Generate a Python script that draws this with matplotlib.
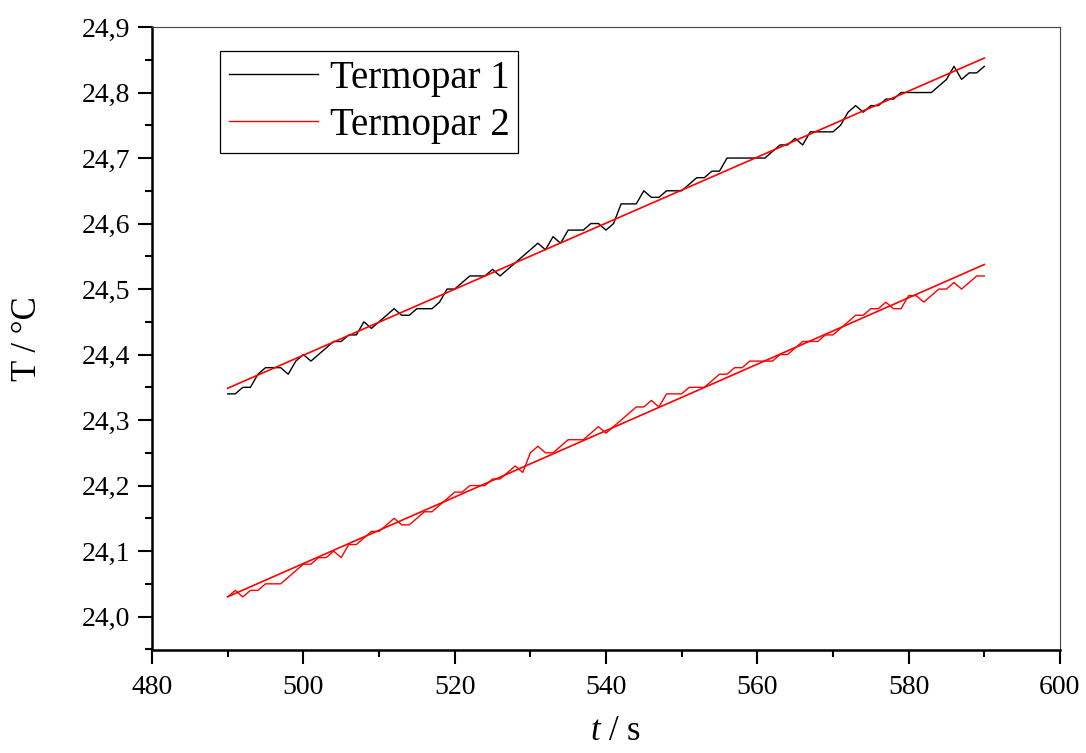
import matplotlib
matplotlib.use('Agg')
import matplotlib.pyplot as plt
from matplotlib.ticker import MultipleLocator, FuncFormatter, FixedLocator
import numpy as np

# time (s), one reading per second
t = np.arange(490, 591)

termopar1 = [
    24.34, 24.34, 24.35, 24.35, 24.37, 24.38, 24.38, 24.38, 24.37, 24.39,  # 490-499
    24.40, 24.39, 24.40, 24.41, 24.42, 24.42, 24.43, 24.43, 24.45, 24.44,  # 500-509
    24.45, 24.46, 24.47, 24.46, 24.46, 24.47, 24.47, 24.47, 24.48, 24.50,  # 510-519
    24.50, 24.51, 24.52, 24.52, 24.52, 24.53, 24.52, 24.53, 24.54, 24.55,  # 520-529
    24.56, 24.57, 24.56, 24.58, 24.57, 24.59, 24.59, 24.59, 24.60, 24.60,  # 530-539
    24.59, 24.60, 24.63, 24.63, 24.63, 24.65, 24.64, 24.64, 24.65, 24.65,  # 540-549
    24.65, 24.66, 24.67, 24.67, 24.68, 24.68, 24.70, 24.70, 24.70, 24.70,  # 550-559
    24.70, 24.70, 24.71, 24.72, 24.72, 24.73, 24.72, 24.74, 24.74, 24.74,  # 560-569
    24.74, 24.75, 24.77, 24.78, 24.77, 24.78, 24.78, 24.79, 24.79, 24.80,  # 570-579
    24.80, 24.80, 24.80, 24.80, 24.81, 24.82, 24.84, 24.82, 24.83, 24.83,  # 580-589
    24.84,                                                                 # 590
]

termopar2 = [
    24.03, 24.04, 24.03, 24.04, 24.04, 24.05, 24.05, 24.05, 24.06, 24.07,  # 490-499
    24.08, 24.08, 24.09, 24.09, 24.10, 24.09, 24.11, 24.11, 24.12, 24.13,  # 500-509
    24.13, 24.14, 24.15, 24.14, 24.14, 24.15, 24.16, 24.16, 24.17, 24.18,  # 510-519
    24.19, 24.19, 24.20, 24.20, 24.20, 24.21, 24.21, 24.22, 24.23, 24.22,  # 520-529
    24.25, 24.26, 24.25, 24.25, 24.26, 24.27, 24.27, 24.27, 24.28, 24.29,  # 530-539
    24.28, 24.29, 24.30, 24.31, 24.32, 24.32, 24.33, 24.32, 24.34, 24.34,  # 540-549
    24.34, 24.35, 24.35, 24.35, 24.36, 24.37, 24.37, 24.38, 24.38, 24.39,  # 550-559
    24.39, 24.39, 24.39, 24.40, 24.40, 24.41, 24.42, 24.42, 24.42, 24.43,  # 560-569
    24.43, 24.44, 24.45, 24.46, 24.46, 24.47, 24.47, 24.48, 24.47, 24.47,  # 570-579
    24.49, 24.49, 24.48, 24.49, 24.50, 24.50, 24.51, 24.50, 24.51, 24.52,  # 580-589
    24.52,                                                                 # 590
]

series_labels = ['Termopar 1', 'Termopar 2']

plt.rcParams['font.family'] = ['Liberation Serif', 'DejaVu Serif']
plt.rcParams['mathtext.fontset'] = 'custom'
plt.rcParams['mathtext.it'] = 'Liberation Serif:italic'
plt.rcParams['mathtext.rm'] = 'Liberation Serif'

fig = plt.figure(figsize=(10.86, 7.53), dpi=100)
ax = fig.add_axes([0.140, 0.1368, 0.836, 0.8273])

ax.plot(t, termopar1, color='black', lw=1.0, label=series_labels[0])
ax.plot(t, termopar2, color='red', lw=1.0, label=series_labels[1])

# linear fits
for y in (termopar1, termopar2):
    k, b = np.polyfit(t, y, 1)
    ax.plot(t, k * t + b, color='red', lw=1.2)

ax.set_xlim(480, 600)
ax.set_ylim(23.949, 24.9)

ax.xaxis.set_major_locator(MultipleLocator(20))
ax.xaxis.set_minor_locator(MultipleLocator(10))
ax.yaxis.set_major_locator(FixedLocator(np.round(np.arange(24.0, 24.91, 0.1), 2)))
ax.yaxis.set_minor_locator(FixedLocator(np.round(np.arange(23.95, 24.91, 0.05), 2)))
ax.yaxis.set_major_formatter(FuncFormatter(lambda v, p: f'{v:.1f}'.replace('.', ',')))

ax.tick_params(which='major', direction='out', length=10, width=1.5,
               labelsize=20, top=False, right=False)
ax.tick_params(which='minor', direction='out', length=5, width=1.5,
               top=False, right=False)
ax.tick_params(axis='x', which='major', pad=8)
ax.tick_params(axis='y', which='major', pad=6)

for side in ('left', 'bottom'):
    ax.spines[side].set_linewidth(1.8)
    ax.spines[side].set_color('black')
for side in ('top', 'right'):
    ax.spines[side].set_linewidth(0.8)
    ax.spines[side].set_color('#444444')

ax.set_xlabel(r'$t$ / s', fontsize=25)
ax.xaxis.set_label_coords(0.51, -0.105)
ax.set_ylabel('T / °C', fontsize=25, labelpad=27)

leg = ax.legend(loc='upper left', bbox_to_anchor=(220 / 1086, 1 - 51 / 753),
                bbox_transform=fig.transFigure, borderaxespad=0,
                fontsize=28, frameon=True, fancybox=False, framealpha=1,
                edgecolor='black', handlelength=2.3, handletextpad=0.3,
                labelspacing=0.27, borderpad=0.22)
leg.get_frame().set_linewidth(0.9)

fig.savefig('out.png', dpi=100)
